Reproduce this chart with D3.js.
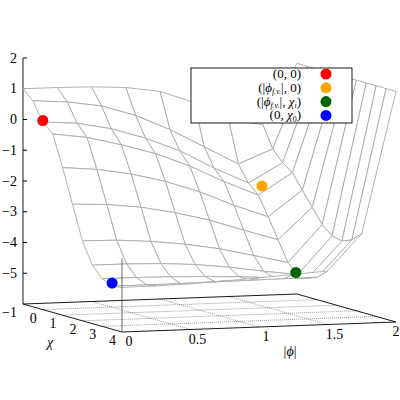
<!DOCTYPE html>
<html><head><meta charset="utf-8">
<script src="https://cdn.jsdelivr.net/npm/d3@7"></script>
<style>body{margin:0;background:#fff}</style>
</head><body><svg id="c" width="400" height="400" font-family="'Liberation Serif', 'Times New Roman', serif" font-size="14"></svg>
<script>
const phiVals=[0,0.25,0.5,0.75,1,1.25,1.5,1.75,2];
const chiVals=[-1,-0.5,0,0.5,1,1.5,2,2.5,3,3.5,4];
const Vgrid=[
[1,1,0.98,0.92,0.75,0.35,-0.25,-0.45,1.5],
[0.7,0.62,0.45,0.1,-0.4,-1.0,-1.6,-1.15,1.5],
[0.1,0.02,-0.2,-0.55,-1.0,-1.6,-2.13,-1.51,1.5],
[-0.2,-0.35,-0.63,-0.96,-1.4,-1.95,-2.43,-1.74,1.5],
[-1.2,-1.3,-1.49,-1.77,-2.15,-2.63,-3.04,-2.22,1.5],
[-2.3,-2.35,-2.48,-2.7,-2.98,-3.35,-3.7,-2.69,1.5],
[-3.4,-3.42,-3.5,-3.63,-3.82,-4.08,-4.35,-3.16,1.5],
[-4.1,-4.1,-4.13,-4.2,-4.33,-4.5,-4.65,-3.43,1.5],
[-4.45,-4.45,-4.47,-4.5,-4.55,-4.62,-4.68,-3.51,1.5],
[-4.6,-4.6,-4.6,-4.58,-4.57,-4.56,-4.55,-3.38,1.5],
[-4.55,-4.54,-4.51,-4.46,-4.4,-4.33,-4.26,-3.09,1.5]];
const points=[
{phi:0,chi:0,v:0.15,c:"#ff0000"},
{phi:1.6,chi:0,v:-2.24,c:"#ffa500"},
{phi:1.5,chi:2.4,v:-4.6,c:"#006400"},
{phi:0,chi:3.5,v:-4.5,c:"#0000ff"}];
const zTicks=[2,1,0,-1,-2,-3,-4,-5];
const chiTicks=[-1,0,1,2,3,4];
const phiTicks=[0,0.5,1,1.5,2];

const O=[23,304];
const pX=d3.scaleLinear([0,2],[0,274]), pY=d3.scaleLinear([0,2],[0,-10]);
const cX=d3.scaleLinear([-1,4],[0,99]), cY=d3.scaleLinear([-1,4],[0,28]);
const zY=d3.scaleLinear([-6,2],[0,-246]);
function P(phi,chi,z){return [O[0]+pX(phi)+cX(chi), O[1]+pY(phi)+cY(chi)+zY(z)];}
const svg=d3.select("#c");
const g0=svg.append("g");
const base=[P(0,-1,-6),P(2,-1,-6),P(2,4,-6),P(0,4,-6)];
phiTicks.slice(1,-1).forEach(p=>g0.append("line").attr("x1",P(p,-1,-6)[0]).attr("y1",P(p,-1,-6)[1]).attr("x2",P(p,4,-6)[0]).attr("y2",P(p,4,-6)[1]).attr("stroke","#555").attr("stroke-width",0.6).attr("stroke-dasharray","1,1"));
chiTicks.slice(1,-1).forEach(c=>g0.append("line").attr("x1",P(0,c,-6)[0]).attr("y1",P(0,c,-6)[1]).attr("x2",P(2,c,-6)[0]).attr("y2",P(2,c,-6)[1]).attr("stroke","#555").attr("stroke-width",0.6).attr("stroke-dasharray","1,1"));
g0.append("path").attr("d","M"+base.join("L")+"Z").attr("fill","none").attr("stroke","#000").attr("stroke-width",0.9);
const za=[P(0,-1,-6),P(0,-1,2)];
g0.append("line").attr("x1",za[0][0]).attr("y1",za[0][1]).attr("x2",za[1][0]).attr("y2",za[1][1]).attr("stroke","#000").attr("stroke-width",0.9);
zTicks.forEach(z=>{const q=P(0,-1,z);
 g0.append("line").attr("x1",q[0]).attr("y1",q[1]).attr("x2",q[0]+4).attr("y2",q[1]).attr("stroke","#000");
 g0.append("text").attr("x",q[0]-6).attr("y",q[1]+4.5).attr("text-anchor","end").text(z<0?"−"+(-z):z);});
chiTicks.forEach(c=>{const q=P(0,c,-6);g0.append("text").attr("x",q[0]-6).attr("y",q[1]+13).attr("text-anchor","end").text(c<0?"−"+(-c):c);});
phiTicks.forEach(p=>{const q=P(p,4,-6);g0.append("text").attr("x",Math.min(q[0]+7,396)).attr("y",q[1]+14).attr("text-anchor","middle").text(p);});
g0.append("text").attr("x",50).attr("y",347).attr("font-style","italic").attr("text-anchor","middle").text("χ");
g0.append("text").attr("x",290).attr("y",356).attr("text-anchor","middle").html('|<tspan font-style="italic">ϕ</tspan>|');
const quads=[];
for(let i=0;i<chiVals.length-1;i++)for(let j=0;j<phiVals.length-1;j++){
 quads.push({i,j,pts:[P(phiVals[j],chiVals[i],Vgrid[i][j]),P(phiVals[j+1],chiVals[i],Vgrid[i][j+1]),P(phiVals[j+1],chiVals[i+1],Vgrid[i+1][j+1]),P(phiVals[j],chiVals[i+1],Vgrid[i+1][j])]});}
quads.sort((a,b)=>a.i-b.i||b.j-a.j);
svg.append("g").selectAll("path").data(quads).join("path").attr("d",d=>"M"+d.pts.join("L")+"Z").attr("fill","#fff").attr("stroke","#aaa").attr("stroke-width",0.9).attr("stroke-linejoin","round");
const vl=[P(0,4,-6),P(0,4,-3.6)];
svg.append("line").attr("x1",vl[0][0]).attr("y1",vl[0][1]).attr("x2",vl[1][0]).attr("y2",vl[1][1]).attr("stroke","#444").attr("stroke-width",0.8);
svg.append("g").selectAll("circle").data(points).join("circle").attr("cx",d=>P(d.phi,d.chi,d.v)[0]).attr("cy",d=>P(d.phi,d.chi,d.v)[1]).attr("r",5.5).attr("fill",d=>d.c);
const lg=svg.append("g").attr("font-size",13);
lg.append("rect").attr("x",191).attr("y",68).attr("width",161).attr("height",55).attr("fill","#fff").attr("stroke","#000").attr("stroke-width",0.9);
const sub=(t,s,it)=>t.append("tspan").attr("font-size","8px").attr("font-style",it?"italic":null).attr("dy",2.5).text(s);
[0,1,2,3].forEach(k=>{const y=74+k*13.8;
 const t=lg.append("text").attr("x",301).attr("y",y+4).attr("text-anchor","end");
 if(k===0)t.text("(0, 0)");
 if(k===1){t.append("tspan").text("(|");t.append("tspan").attr("font-style","italic").text("ϕ");sub(t,"f.v.",true);t.append("tspan").attr("dy",-2.5).text("|, 0)");}
 if(k===2){t.append("tspan").text("(|");t.append("tspan").attr("font-style","italic").text("ϕ");sub(t,"f.v.",true);t.append("tspan").attr("dy",-2.5).text("|, ");t.append("tspan").attr("font-style","italic").text("χ");sub(t,"i",true);t.append("tspan").attr("dy",-2.5).text(")");}
 if(k===3){t.append("tspan").text("(0, ");t.append("tspan").attr("font-style","italic").text("χ");sub(t,"0",false);t.append("tspan").attr("dy",-2.5).text(")");}
 lg.append("circle").attr("cx",326).attr("cy",y).attr("r",5.5).attr("fill",points[k].c);});
</script></body></html>
